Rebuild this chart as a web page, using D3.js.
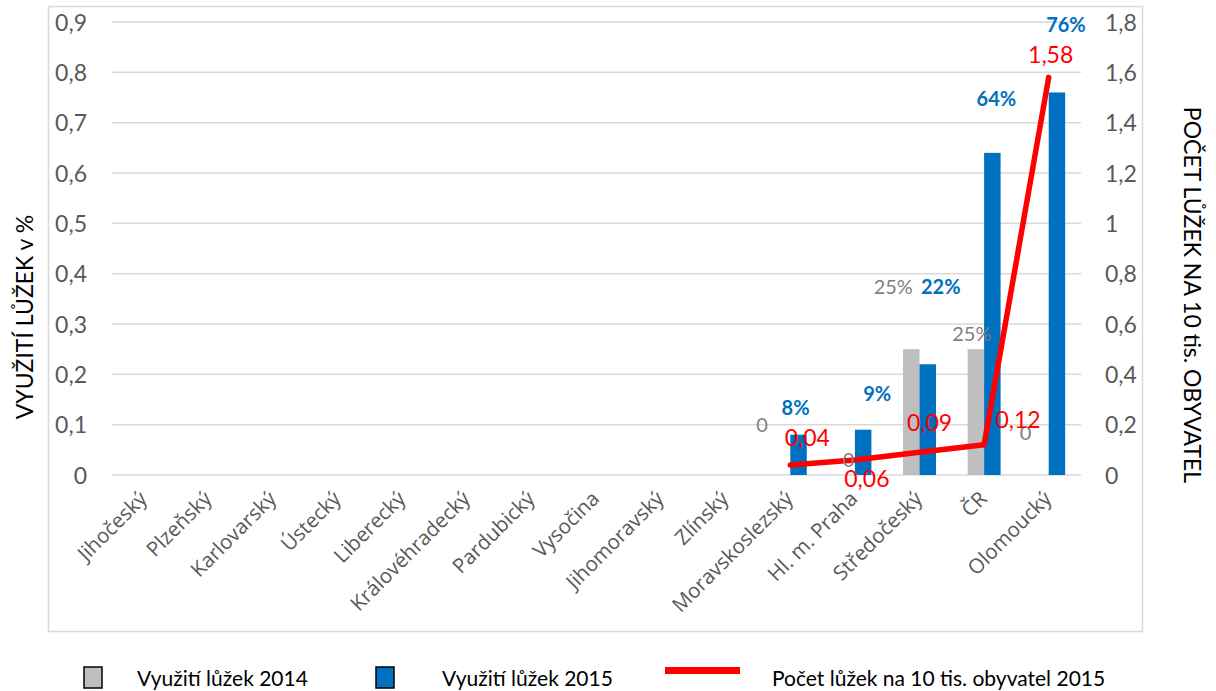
<!DOCTYPE html>
<html>
<head>
<meta charset="utf-8">
<script src="https://cdn.jsdelivr.net/npm/d3@7/dist/d3.min.js"></script>
<style>
  html, body { margin: 0; padding: 0; background: #fff; }
  svg { display: block; }
</style>
</head>
<body>
<svg id="chart" width="1216" height="691"></svg>
<script>
// Regions, in drawing order along the category axis
const categories = ["Jihočeský", "Plzeňský", "Karlovarský", "Ústecký", "Liberecký",
  "Královéhradecký", "Pardubický", "Vysočina", "Jihomoravský", "Zlínský",
  "Moravskoslezský", "Hl. m. Praha", "Středočeský", "ČR", "Olomoucký"];

// Bed utilisation (share) per year; null = no data
const util2014 = [null, null, null, null, null, null, null, null, null, null, 0, 0, 0.25, 0.25, 0];
const util2015 = [null, null, null, null, null, null, null, null, null, null, 0.08, 0.09, 0.22, 0.64, 0.76];
// Beds per 10 000 inhabitants, 2015
const beds2015 = [null, null, null, null, null, null, null, null, null, null, 0.04, 0.06, 0.09, 0.12, 1.58];

const leftTicks = [0, 0.1, 0.2, 0.3, 0.4, 0.5, 0.6, 0.7, 0.8, 0.9];
const rightTicks = [0, 0.2, 0.4, 0.6, 0.8, 1, 1.2, 1.4, 1.6, 1.8];

// Label nudges (dx, dy in px from the mark's anchor) to keep labels apart
const nudge2014 = { 10: [-20, -43], 11: [2, -8], 12: [-18, -55], 13: [-4, -8], 14: [-15, -35] };
const nudge2015 = { 10: [-3, -20], 11: [14, -29], 12: [13, -70], 13: [4, -47], 14: [9, -60] };
const nudgeBeds = { 10: [17, -19], 11: [12, 27], 12: [10, -21], 13: [34, -17], 14: [2, -14] };

const fmtComma = v => String(v).replace(".", ",");
const fmtPct = v => v === 0 ? "0" : Math.round(v * 100) + "%";

const svg = d3.select("#chart");
const plot = { left: 112, right: 1081, top: 22, bottom: 475 };

// Outer chart frame
svg.append("rect")
  .attr("x", 48.5).attr("y", 6.5).attr("width", 1094).attr("height", 625)
  .attr("fill", "none").attr("stroke", "#d9d9d9").attr("stroke-width", 1.5);

const x = d3.scaleBand().domain(categories).range([plot.left, plot.right]).paddingInner(0).paddingOuter(0);
const sub = d3.scaleBand().domain(["2014", "2015"]).range([0, x.bandwidth()]).paddingInner(0).paddingOuter(0.96);
const yL = d3.scaleLinear().domain([0, 0.9]).range([plot.bottom, plot.top]);
const yR = d3.scaleLinear().domain([0, 1.8]).range([plot.bottom, plot.top]);

// Gridlines
svg.append("g").selectAll("line").data(leftTicks).join("line")
  .attr("x1", plot.left).attr("x2", plot.right)
  .attr("y1", d => yL(d)).attr("y2", d => yL(d))
  .attr("stroke", "#d9d9d9").attr("stroke-width", 1.5);

// Left axis
const axL = svg.append("g").attr("transform", `translate(${plot.left - 25},0)`)
  .call(d3.axisLeft(yL).tickValues(leftTicks).tickFormat(fmtComma).tickSize(0).tickPadding(0));
axL.select(".domain").remove();
axL.selectAll("text").attr("font-family", "Lato").attr("font-size", 23).attr("fill", "#595959").attr("dy", "0.36em");

// Right axis
const axR = svg.append("g").attr("transform", `translate(${plot.right + 24},0)`)
  .call(d3.axisRight(yR).tickValues(rightTicks).tickFormat(fmtComma).tickSize(0).tickPadding(0));
axR.select(".domain").remove();
axR.selectAll("text").attr("font-family", "Lato").attr("font-size", 23).attr("fill", "#595959").attr("dy", "0.36em");

// Category labels, rotated
svg.append("g").selectAll("text").data(categories).join("text")
  .attr("transform", d => `translate(${x(d) + x.bandwidth() / 2 + 4},${plot.bottom + 25}) rotate(-45)`)
  .attr("text-anchor", "end")
  .attr("font-family", "Open Sans").attr("font-size", 20.5).attr("fill", "#595959")
  .text(d => d);

// Axis titles
svg.append("text")
  .attr("transform", `translate(33,317) rotate(-90)`)
  .attr("text-anchor", "middle").attr("font-family", "Lato").attr("font-size", 23).attr("fill", "#000")
  .text("VYUŽITÍ LŮŽEK v %");
svg.append("text")
  .attr("transform", `translate(1184,295) rotate(90)`)
  .attr("text-anchor", "middle").attr("font-family", "Lato").attr("font-size", 23).attr("fill", "#000")
  .text("POČET LŮŽEK NA 10 tis. OBYVATEL");

const idx = categories.map((c, i) => i);
const barW = sub.bandwidth();

// 2014 bars
svg.append("g").selectAll("rect").data(idx.filter(i => util2014[i] !== null)).join("rect")
  .attr("x", i => x(categories[i]) + sub("2014"))
  .attr("width", barW)
  .attr("y", i => yL(util2014[i]))
  .attr("height", i => yL(0) - yL(util2014[i]))
  .attr("fill", "#bfbfbf");

// 2015 bars
svg.append("g").selectAll("rect").data(idx.filter(i => util2015[i] !== null)).join("rect")
  .attr("x", i => x(categories[i]) + sub("2015"))
  .attr("width", barW)
  .attr("y", i => yL(util2015[i]))
  .attr("height", i => yL(0) - yL(util2015[i]))
  .attr("fill", "#0070c0");

// Beds line
const lineIdx = idx.filter(i => beds2015[i] !== null);
svg.append("path")
  .datum(lineIdx)
  .attr("d", d3.line().x(i => x(categories[i]) + x.bandwidth() / 2).y(i => yR(beds2015[i])))
  .attr("fill", "none").attr("stroke", "#ff0000").attr("stroke-width", 5.5)
  .attr("stroke-linejoin", "round").attr("stroke-linecap", "round");

// Data labels
svg.append("g").selectAll("text").data(idx.filter(i => util2014[i] !== null)).join("text")
  .attr("x", i => x(categories[i]) + sub("2014") + barW / 2 + nudge2014[i][0])
  .attr("y", i => yL(util2014[i]) + nudge2014[i][1])
  .attr("text-anchor", "middle").attr("font-family", "Lato").attr("font-size", 20).attr("fill", "#7f7f7f")
  .text(i => fmtPct(util2014[i]));

svg.append("g").selectAll("text").data(idx.filter(i => util2015[i] !== null)).join("text")
  .attr("x", i => x(categories[i]) + sub("2015") + barW / 2 + nudge2015[i][0])
  .attr("y", i => yL(util2015[i]) + nudge2015[i][1])
  .attr("text-anchor", "middle").attr("font-family", "Lato").attr("font-weight", "bold")
  .attr("font-size", 20).attr("fill", "#0070c0")
  .text(i => fmtPct(util2015[i]));

svg.append("g").selectAll("text").data(lineIdx).join("text")
  .attr("x", i => x(categories[i]) + x.bandwidth() / 2 + nudgeBeds[i][0])
  .attr("y", i => yR(beds2015[i]) + nudgeBeds[i][1])
  .attr("text-anchor", "middle").attr("font-family", "Lato").attr("font-size", 23).attr("fill", "#ff0000")
  .text(i => fmtComma(beds2015[i]));

// Legend
const legend = svg.append("g");
legend.append("rect").attr("x", 84).attr("y", 667).attr("width", 18).attr("height", 21)
  .attr("fill", "#bfbfbf").attr("stroke", "#000").attr("stroke-width", 1.5);
legend.append("text").attr("x", 137).attr("y", 686).attr("font-family", "Lato").attr("font-size", 21)
  .attr("fill", "#000").text("Využití lůžek 2014");
legend.append("rect").attr("x", 376).attr("y", 667).attr("width", 18).attr("height", 21)
  .attr("fill", "#0070c0").attr("stroke", "#000").attr("stroke-width", 1.5);
legend.append("text").attr("x", 442).attr("y", 686).attr("font-family", "Lato").attr("font-size", 21)
  .attr("fill", "#000").text("Využití lůžek 2015");
legend.append("line").attr("x1", 665).attr("x2", 740).attr("y1", 670.5).attr("y2", 670.5)
  .attr("stroke", "#ff0000").attr("stroke-width", 7);
legend.append("text").attr("x", 772).attr("y", 686).attr("font-family", "Lato").attr("font-size", 21)
  .attr("fill", "#000").text("Počet lůžek na 10 tis. obyvatel 2015");
</script>
</body>
</html>
